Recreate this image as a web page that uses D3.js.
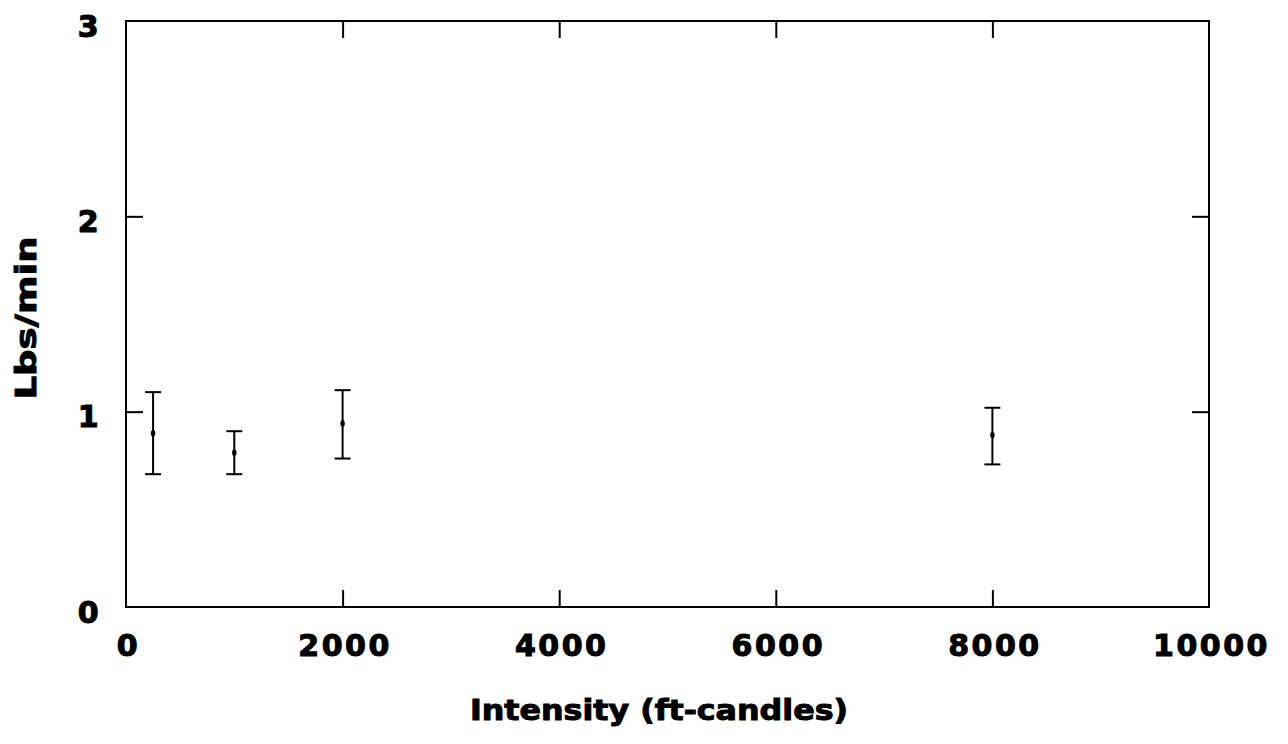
<!DOCTYPE html>
<html>
<head>
<meta charset="utf-8">
<script src="https://cdn.jsdelivr.net/npm/d3@7"></script>
<style>
  html, body { margin: 0; padding: 0; background: #fff; }
  svg { display: block; }
  .tick text { font-family: "DejaVu Sans", sans-serif; font-weight: bold; font-size: 30px; letter-spacing: 2.5px; fill: #000; stroke: #000; stroke-width: 1.1px; }
  .title { font-family: "DejaVu Sans", sans-serif; font-weight: bold; font-size: 29px; fill: #000; stroke: #000; stroke-width: 1px; }
</style>
</head>
<body>
<svg id="chart" width="1288" height="744"></svg>
<script>
// Data
const intensity = [250, 1000, 2000, 8000];
const meanRate  = [0.89, 0.79, 0.94, 0.88];
const upperRate = [1.10, 0.90, 1.11, 1.02];
const lowerRate = [0.68, 0.68, 0.76, 0.73];
const xTicks = [0, 2000, 4000, 6000, 8000, 10000];
const yTicks = [0, 1, 2, 3];
const xTitle = "Intensity (ft-candles)";
const yTitle = "Lbs/min";

const W = 1288, H = 744;
const margin = {left: 126, right: 79, top: 21, bottom: 137};
const iw = W - margin.left - margin.right;
const ih = H - margin.top - margin.bottom;
const tickLen = 17;

const svg = d3.select("#chart");
const g = svg.append("g").attr("transform", `translate(${margin.left},${margin.top})`);

const x = d3.scaleLinear().domain([0, 10000]).range([0, iw]);
const y = d3.scaleLinear().domain([0, 3]).range([ih, 0]);

// Bottom axis with labels
const xAxis = g.append("g").attr("transform", `translate(0,${ih})`)
  .call(d3.axisBottom(x).tickValues(xTicks).tickFormat(d3.format("d")).tickSizeInner(-tickLen).tickSizeOuter(0).tickPadding(28));
xAxis.select(".domain").remove();
xAxis.selectAll(".tick line").attr("stroke", "#000").attr("stroke-width", 2)
  .attr("display", d => (d === 0 || d === 10000) ? "none" : null);
xAxis.selectAll(".tick text").attr("dx", "2");

// Top ticks
const xTop = g.append("g")
  .call(d3.axisTop(x).tickValues(xTicks.filter(d => d > 0 && d < 10000)).tickFormat("").tickSizeInner(-tickLen).tickSizeOuter(0));
xTop.select(".domain").remove();
xTop.selectAll(".tick line").attr("stroke", "#000").attr("stroke-width", 2);

// Left axis with labels
const yAxis = g.append("g")
  .call(d3.axisLeft(y).tickValues(yTicks).tickFormat(d3.format("d")).tickSizeInner(-tickLen).tickSizeOuter(0).tickPadding(25));
yAxis.select(".domain").remove();
yAxis.selectAll(".tick line").attr("stroke", "#000").attr("stroke-width", 2)
  .attr("display", d => (d === 0 || d === 3) ? "none" : null);
yAxis.selectAll(".tick text").attr("dy", "0.5em");

// Right ticks
const yRight = g.append("g").attr("transform", `translate(${iw},0)`)
  .call(d3.axisRight(y).tickValues(yTicks.filter(d => d > 0 && d < 3)).tickFormat("").tickSizeInner(-tickLen).tickSizeOuter(0));
yRight.select(".domain").remove();
yRight.selectAll(".tick line").attr("stroke", "#000").attr("stroke-width", 2);

// Frame
g.append("rect").attr("x", 0).attr("y", 0).attr("width", iw).attr("height", ih)
  .attr("fill", "none").attr("stroke", "#000").attr("stroke-width", 2);

// Error bars
const idx = d3.range(intensity.length);
const capHalf = 8;
const bars = g.append("g").selectAll("g").data(idx).join("g");
bars.append("line")
  .attr("x1", i => x(intensity[i])).attr("x2", i => x(intensity[i]))
  .attr("y1", i => y(upperRate[i])).attr("y2", i => y(lowerRate[i]))
  .attr("stroke", "#000").attr("stroke-width", 2);
bars.append("line")
  .attr("x1", i => x(intensity[i]) - capHalf).attr("x2", i => x(intensity[i]) + capHalf)
  .attr("y1", i => y(upperRate[i])).attr("y2", i => y(upperRate[i]))
  .attr("stroke", "#000").attr("stroke-width", 2);
bars.append("line")
  .attr("x1", i => x(intensity[i]) - capHalf).attr("x2", i => x(intensity[i]) + capHalf)
  .attr("y1", i => y(lowerRate[i])).attr("y2", i => y(lowerRate[i]))
  .attr("stroke", "#000").attr("stroke-width", 2);
bars.append("ellipse")
  .attr("cx", i => x(intensity[i])).attr("cy", i => y(meanRate[i]))
  .attr("rx", 2.2).attr("ry", 3.2).attr("fill", "#000");

// Axis titles
svg.append("text").attr("class", "title")
  .attr("x", 659).attr("y", 720)
  .attr("text-anchor", "middle")
  .attr("textLength", 378).attr("lengthAdjust", "spacingAndGlyphs")
  .text(xTitle);

svg.append("text").attr("class", "title")
  .attr("transform", `translate(36,318) rotate(-90)`)
  .attr("text-anchor", "middle")
  .attr("textLength", 163).attr("lengthAdjust", "spacingAndGlyphs")
  .text(yTitle);
</script>
</body>
</html>
